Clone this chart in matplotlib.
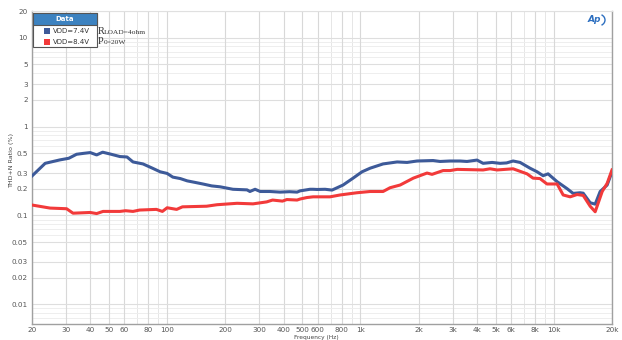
import matplotlib
matplotlib.use('Agg')
import matplotlib.pyplot as plt
import numpy as np
from matplotlib.patches import Rectangle, Arc
from matplotlib.ticker import FixedLocator, FixedFormatter, NullFormatter

# Частоты и значения THD+N (%) для VDD=7.4V
freq_74 = [20, 23.4, 27.9, 31, 34, 37, 40, 43.2, 46.4, 51, 57, 62, 66.6, 75, 84, 92, 100, 107,
           117, 127, 140, 153, 170, 188, 219, 259, 268, 285, 303, 340, 384, 430, 470, 487, 548,
           569, 596, 656, 713, 813, 916, 1019, 1121, 1309, 1547, 1742, 1962, 2374, 2581, 2900,
           3274, 3557, 4009, 4308, 4800, 5272, 5700, 6157, 6693, 7537, 8196, 8804, 9340, 10400,
           11720, 12590, 13680, 14190, 15420, 16370, 17370, 18880, 20000]
thd_74 = [0.278, 0.386, 0.422, 0.44, 0.488, 0.50, 0.51, 0.48, 0.515, 0.49, 0.46, 0.455, 0.40, 0.38,
          0.34, 0.31, 0.297, 0.27, 0.26, 0.245, 0.235, 0.226, 0.215, 0.21, 0.197, 0.194, 0.186,
          0.197, 0.186, 0.186, 0.183, 0.185, 0.183, 0.189, 0.197, 0.197, 0.196, 0.197, 0.193,
          0.22, 0.263, 0.31, 0.34, 0.38, 0.40, 0.395, 0.41, 0.415, 0.405, 0.41, 0.41, 0.405,
          0.42, 0.386, 0.395, 0.386, 0.39, 0.41, 0.395, 0.34, 0.31, 0.28, 0.294, 0.24, 0.20,
          0.177, 0.18, 0.178, 0.139, 0.134, 0.186, 0.22, 0.31]

# Частоты и значения THD+N (%) для VDD=8.4V
freq_84 = [20, 24.8, 30.2, 32.6, 40, 43.2, 46.6, 57, 61, 66.6, 72, 88, 94.5, 100, 112, 120,
           160, 181, 230, 278, 327, 351, 395, 416, 470, 487, 528, 569, 696, 785, 958, 1121,
           1309, 1422, 1604, 1877, 2209, 2345, 2676, 2910, 3162, 4308, 4680, 5088, 6157, 7270,
           7810, 8480, 9220, 10400, 11180, 12150, 13200, 14190, 15420, 16370, 17800, 18880, 20000]
thd_84 = [0.131, 0.121, 0.119, 0.106, 0.108, 0.105, 0.111, 0.111, 0.113, 0.111, 0.115, 0.117,
          0.111, 0.122, 0.117, 0.125, 0.127, 0.132, 0.137, 0.135, 0.142, 0.149, 0.145, 0.151,
          0.149, 0.153, 0.159, 0.162, 0.162, 0.17, 0.18, 0.186, 0.186, 0.205, 0.22, 0.263,
          0.30, 0.29, 0.32, 0.32, 0.33, 0.325, 0.335, 0.325, 0.335, 0.294, 0.263, 0.26, 0.226,
          0.226, 0.17, 0.162, 0.172, 0.168, 0.127, 0.11, 0.186, 0.23, 0.325]

series_names = ['VDD=7.4V', 'VDD=8.4V']
series_colors = ['#3d5a99', '#f23a3a']

# Подписи осей
x_ticks = [20, 30, 40, 50, 60, 80, 100, 200, 300, 400, 500, 600, 800,
           1000, 2000, 3000, 4000, 5000, 6000, 8000, 10000, 20000]
x_labels = ['20', '30', '40', '50', '60', '80', '100', '200', '300', '400', '500', '600', '800',
            '1k', '2k', '3k', '4k', '5k', '6k', '8k', '10k', '20k']
y_ticks = [20, 10, 5, 3, 2, 1, 0.5, 0.3, 0.2, 0.1, 0.05, 0.03, 0.02, 0.01]
y_labels = ['20', '10', '5', '3', '2', '1', '0.5', '0.3', '0.2', '0.1', '0.05', '0.03', '0.02', '0.01']

plt.rcParams['font.family'] = ['DejaVu Sans']

fig = plt.figure(figsize=(6.22, 3.40), dpi=100)
ax = fig.add_axes([32 / 622, 16 / 340, 580 / 622, 313 / 340])
ax.set_xscale('log')
ax.set_yscale('log')
ax.set_xlim(20, 20000)
ax.set_ylim(0.006, 20)

# Сетка: все кратные значения внутри декады
minor_x = [m * 10 ** e for e in range(1, 5) for m in range(2, 10) if 20 <= m * 10 ** e <= 20000]
minor_y = [m * 10 ** e for e in range(-3, 2) for m in range(1, 10) if 0.006 <= m * 10 ** e <= 20]
for v in minor_x:
    ax.axvline(v, color='#e6e6e6', lw=0.7, zorder=0)
for v in minor_y:
    ax.axhline(v, color='#eeeeee', lw=0.7, zorder=0)
for v in x_ticks:
    ax.axvline(v, color='#d8d8d8', lw=0.8, zorder=0)
for v in y_ticks:
    ax.axhline(v, color='#dedede', lw=0.8, zorder=0)

ax.plot(freq_74, thd_74, color=series_colors[0], lw=2.2, zorder=3)
ax.plot(freq_84, thd_84, color=series_colors[1], lw=2.2, zorder=4)

ax.xaxis.set_major_locator(FixedLocator(x_ticks))
ax.xaxis.set_major_formatter(FixedFormatter(x_labels))
ax.xaxis.set_minor_formatter(NullFormatter())
ax.yaxis.set_major_locator(FixedLocator(y_ticks))
ax.yaxis.set_major_formatter(FixedFormatter(y_labels))
ax.yaxis.set_minor_formatter(NullFormatter())
ax.tick_params(which='both', length=0, labelsize=5.2, colors='#555555')
ax.tick_params(axis='x', pad=2)
ax.tick_params(axis='y', pad=3)

for s in ['left', 'bottom', 'right']:
    ax.spines[s].set_color('#a0a0a0')
    ax.spines[s].set_linewidth(1.0)
ax.spines['top'].set_color('#e0e0e0')

# Подписи осей ставим вручную, чтобы они помещались в маленькую картинку
fig.text(12 / 622, 1 - 160 / 340, 'THD+N Ratio (%)', fontsize=4.6, color='#444444',
         rotation=90, ha='center', va='center')
fig.text(316 / 622, 1 - 337 / 340, 'Frequency (Hz)', fontsize=4.2, color='#444444',
         ha='center', va='center')

# Легенда в виде таблички "Data"
lx, ly, lw_, lh = 33 / 622, 1 - 47 / 340, 64 / 622, 34 / 340
fig.patches.append(Rectangle((lx, ly), lw_, lh, transform=fig.transFigure,
                             facecolor='white', edgecolor='#555555', lw=0.8, zorder=10))
fig.patches.append(Rectangle((lx, 1 - 25 / 340), lw_, 12 / 340, transform=fig.transFigure,
                             facecolor='#3c82c0', edgecolor='#555555', lw=0.8, zorder=11))
fig.text(lx + lw_ / 2, 1 - 19 / 340, 'Data', fontsize=5, color='white', weight='bold',
         ha='center', va='center', zorder=12)
for i, (name, col) in enumerate(zip(series_names, series_colors)):
    yy = 1 - (31 + 11 * i) / 340
    fig.patches.append(Rectangle((44 / 622, yy - 3 / 340), 6 / 622, 6 / 340,
                                 transform=fig.transFigure, facecolor=col,
                                 edgecolor='none', zorder=12))
    fig.text(53 / 622, yy, name, fontsize=5, color='#333333', va='center', zorder=12)

# Условия измерения
serif = ['Liberation Serif', 'DejaVu Serif']
fig.text(98 / 622, 1 - 31 / 340, 'R', fontsize=7.5, family=serif, color='#333333', va='center')
fig.text(104 / 622, 1 - 32 / 340, 'LOAD=4ohm', fontsize=5.4, family=serif, color='#333333', va='center')
fig.text(98 / 622, 1 - 42 / 340, 'P', fontsize=7.5, family=serif, color='#333333', va='center')
fig.text(104 / 622, 1 - 43 / 340, '0=20W', fontsize=5.4, family=serif, color='#333333', va='center')

# Логотип AP
fig.text(594 / 622, 1 - 20 / 340, 'Ap', fontsize=6.5, style='italic', weight='bold',
         color='#2d6fc0', ha='center', va='center')
fig.patches.append(Arc((598 / 622, 1 - 20 / 340), 14 / 622, 12 / 340, theta1=-70, theta2=70,
                       transform=fig.transFigure, color='#2d6fc0', lw=1.0))

fig.savefig('out.png', dpi=100)
